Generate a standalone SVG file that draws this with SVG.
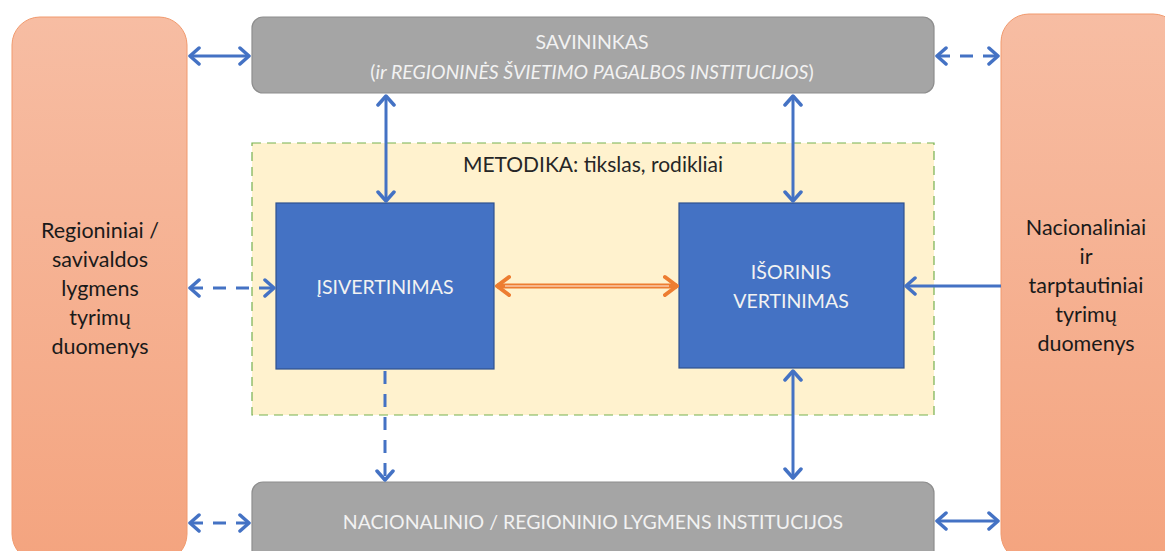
<svg xmlns="http://www.w3.org/2000/svg" width="1165" height="551" viewBox="0 0 1165 551">
<style>
.t{font-family:Lato,"Open Sans","Liberation Sans",sans-serif;text-anchor:middle}
.side{fill:url(#og);stroke:#F19A6E;stroke-width:1}
.grey{fill:#A5A5A5;stroke:#8E8E8E;stroke-width:1.2}
.blue{fill:#4472C4;stroke:#2F528F;stroke-width:1.2}
.wt{fill:#F2F2F2;font-size:19.5px}
.dk{fill:#1A1A1A;font-size:21.5px}
.c{fill:none;stroke:#4472C4;stroke-width:3}
.d{stroke-dasharray:13 10}
</style>
<defs>
<linearGradient id="og" x1="0" y1="0" x2="0" y2="1">
<stop offset="0" stop-color="#F7BDA3"/>
<stop offset="1" stop-color="#F4A47F"/>
</linearGradient>
<marker id="a" markerUnits="userSpaceOnUse" viewBox="-12 -10 14 20" refX="0" refY="0" markerWidth="14" markerHeight="20" orient="auto-start-reverse">
<path d="M-9,-8 L0,0 L-9,8" fill="none" stroke="#4472C4" stroke-width="3.5" stroke-linecap="round" stroke-linejoin="round"/>
</marker>
<marker id="o" markerUnits="userSpaceOnUse" viewBox="-14 -12 16 24" refX="0" refY="0" markerWidth="16" markerHeight="24" orient="auto-start-reverse">
<path d="M-12,-9 L0,0 L-12,9" fill="none" stroke="#ED7D31" stroke-width="4" stroke-linecap="round" stroke-linejoin="round"/>
</marker>
</defs>
<g id="regioniniai">
<rect class="side" x="12" y="17" width="175" height="545" rx="28"/>
<text class="t dk" x="100" y="238">Regioniniai /</text>
<text class="t dk" x="100" y="267">savivaldos</text>
<text class="t dk" x="100" y="296">lygmens</text>
<text class="t dk" x="100" y="325">tyrimų</text>
<text class="t dk" x="100" y="354">duomenys</text>
</g>
<g id="nacionaliniai">
<rect class="side" x="1001" y="14" width="180" height="548" rx="28"/>
<text class="t dk" x="1086" y="235">Nacionaliniai</text>
<text class="t dk" x="1086" y="264">ir</text>
<text class="t dk" x="1086" y="293">tarptautiniai</text>
<text class="t dk" x="1086" y="322">tyrimų</text>
<text class="t dk" x="1086" y="351">duomenys</text>
</g>
<g id="savininkas">
<rect class="grey" x="252" y="17" width="682" height="76" rx="11"/>
<text class="t wt" x="592" y="49">SAVININKAS</text>
<text class="t wt" x="592" y="79">(<tspan font-style="italic">ir REGIONINĖS ŠVIETIMO PAGALBOS INSTITUCIJOS</tspan>)</text>
</g>
<g id="nacionalinio">
<rect class="grey" x="252" y="482" width="682" height="90" rx="11"/>
<text class="t wt" x="593" y="529">NACIONALINIO / REGIONINIO LYGMENS INSTITUCIJOS</text>
</g>
<g id="metodika">
<rect x="252" y="143" width="682" height="272" fill="#FFF2CC" stroke="#70AD47" stroke-width="1.2" stroke-dasharray="9 6" opacity="0.95"/>
<text class="t" x="593" y="172" fill="#262626" font-size="21px">METODIKA: tikslas, rodikliai</text>
</g>
<g id="isivertinimas">
<rect class="blue" x="276" y="203" width="218" height="166"/>
<text class="t wt" x="385" y="294" font-size="19px">ĮSIVERTINIMAS</text>
</g>
<g id="isorinis">
<rect class="blue" x="679" y="203" width="225" height="165"/>
<text class="t wt" x="791" y="279" font-size="20.5px">IŠORINIS</text>
<text class="t wt" x="791" y="308" font-size="20.5px">VERTINIMAS</text>
</g>
<g id="connectors">
<line class="c" x1="190" y1="56" x2="249" y2="56" marker-start="url(#a)" marker-end="url(#a)"/>
<line class="c d" x1="937" y1="56" x2="998" y2="56" marker-start="url(#a)" marker-end="url(#a)"/>
<line class="c d" x1="190" y1="523" x2="249" y2="523" marker-start="url(#a)" marker-end="url(#a)"/>
<line class="c" x1="937" y1="521" x2="998" y2="521" marker-start="url(#a)" marker-end="url(#a)"/>
<line class="c" x1="386" y1="96" x2="386" y2="201" marker-start="url(#a)" marker-end="url(#a)"/>
<line class="c" x1="793" y1="96" x2="793" y2="201" marker-start="url(#a)" marker-end="url(#a)"/>
<line class="c d" x1="385" y1="371" x2="385" y2="480" marker-end="url(#a)"/>
<line class="c" x1="793" y1="371" x2="793" y2="478" marker-start="url(#a)" marker-end="url(#a)"/>
<line class="c d" x1="190" y1="288" x2="274" y2="288" marker-start="url(#a)" marker-end="url(#a)"/>
<line class="c" x1="1001" y1="286" x2="906" y2="286" marker-end="url(#a)"/>
<line x1="497" y1="286" x2="677" y2="286" stroke="#ED7D31" stroke-width="5" marker-start="url(#o)" marker-end="url(#o)"/>
<line x1="505" y1="286" x2="669" y2="286" stroke="#F8CBAD" stroke-width="1.3"/>
</g>
</svg>
